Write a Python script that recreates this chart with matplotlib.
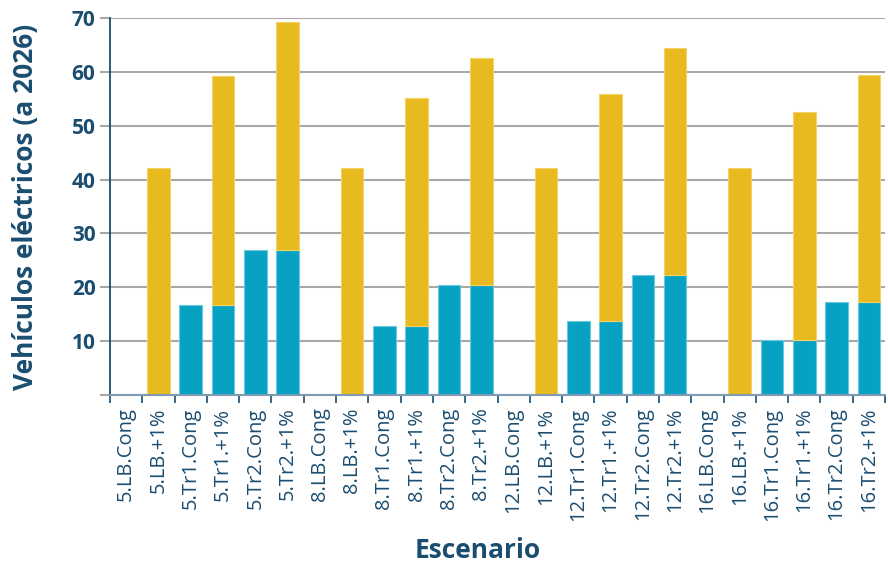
import matplotlib
matplotlib.use("Agg")
import matplotlib.pyplot as plt
import numpy as np

plt.rcParams['font.family'] = ['Open Sans', 'DejaVu Sans']

categories = [
    "5.LB.Cong", "5.LB.+1%", "5.Tr1.Cong", "5.Tr1.+1%", "5.Tr2.Cong", "5.Tr2.+1%",
    "8.LB.Cong", "8.LB.+1%", "8.Tr1.Cong", "8.Tr1.+1%", "8.Tr2.Cong", "8.Tr2.+1%",
    "12.LB.Cong", "12.LB.+1%", "12.Tr1.Cong", "12.Tr1.+1%", "12.Tr2.Cong", "12.Tr2.+1%",
    "16.LB.Cong", "16.LB.+1%", "16.Tr1.Cong", "16.Tr1.+1%", "16.Tr2.Cong", "16.Tr2.+1%",
]
# base (congestion) component of each scenario
base_values = [
    0, 0, 16.8, 16.8, 27.0, 27.0,
    0, 0, 12.9, 12.9, 20.4, 20.4,
    0, 0, 13.7, 13.7, 22.2, 22.2,
    0, 0, 10.3, 10.3, 17.3, 17.3,
]
# total per scenario (base + 1% growth component)
total_values = [
    0, 42.2, 16.8, 59.2, 27.0, 69.2,
    0, 42.2, 12.9, 55.1, 20.4, 62.5,
    0, 42.2, 13.7, 55.8, 22.2, 64.4,
    0, 42.2, 10.3, 52.5, 17.3, 59.4,
]
y_ticks = [0, 10, 20, 30, 40, 50, 60, 70]
y_tick_labels = ["", "10", "20", "30", "40", "50", "60", "70"]

navy = "#1a4d70"
blue = "#07a2c3"
yellow = "#e8ba20"
grid_grey = "#a8a8a8"

fig = plt.figure(figsize=(8.88, 5.71), dpi=100)
ax = fig.add_axes([0.1239, 0.3082, 0.8727, 0.6603])

x = np.arange(len(categories))
base = np.array(base_values, dtype=float)
total = np.array(total_values, dtype=float)
top = total - base

# only outline segments that actually have height
base_lw = np.where(base > 0, 0.8, 0.0)
top_lw = np.where(top > 0, 0.8, 0.0)

ax.bar(x, base, width=0.7, color=blue, edgecolor="#6cc9dd", linewidth=base_lw, zorder=3)
ax.bar(x, top, bottom=base, width=0.7, color=yellow, edgecolor="#f2d466", linewidth=top_lw, zorder=3)

ax.set_xlim(-0.5, len(categories) - 0.5)
ax.set_ylim(0, 70)

# horizontal grid
ax.set_yticks(y_ticks)
ax.set_yticklabels(y_tick_labels, fontsize=15, fontweight="bold", color=navy)
ax.yaxis.grid(True, color=grid_grey, linewidth=1.5, zorder=0)
ax.tick_params(axis="y", length=7.5, width=1.5, color=grid_grey, pad=3)

# category labels centered on bars, tick marks at category boundaries
ax.set_xticks(x)
ax.set_xticklabels(categories, rotation=90, fontsize=14.5, color=navy)
ax.tick_params(axis="x", which="major", length=0, pad=9)
ax.set_xticks(np.arange(-0.5, len(categories)), minor=True)
ax.tick_params(axis="x", which="minor", length=5.5, width=1.2, color=navy)

for side in ("top", "right"):
    ax.spines[side].set_visible(False)
ax.spines["left"].set_color(navy)
ax.spines["left"].set_linewidth(1.3)
ax.spines["bottom"].set_color("#7f9bb3")
ax.spines["bottom"].set_linewidth(1.5)
ax.spines["bottom"].set_zorder(4)

ax.set_ylabel("Vehículos eléctricos (a 2026)", fontsize=19, fontweight="bold", color=navy)
ax.yaxis.set_label_coords(-0.092, 0.5)
ax.set_xlabel("Escenario", fontsize=19, fontweight="bold", color=navy)
ax.xaxis.set_label_coords(0.475, -0.376)

fig.savefig("out.png", dpi=100)
